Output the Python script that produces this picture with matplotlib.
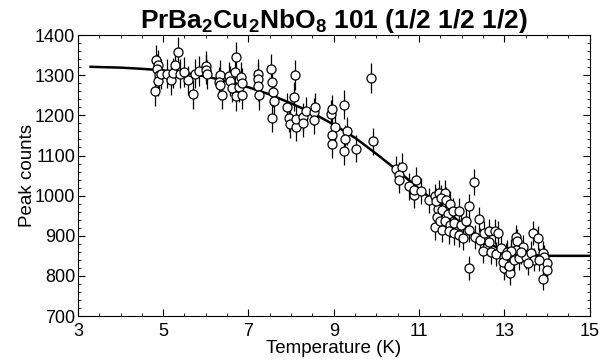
import matplotlib
matplotlib.use("Agg")
import matplotlib.pyplot as plt
from matplotlib.ticker import MultipleLocator, FixedLocator

plt.rcParams['font.family'] = ['Liberation Sans', 'DejaVu Sans']
plt.rcParams['mathtext.fontset'] = 'custom'
plt.rcParams['mathtext.rm'] = 'Liberation Sans'
plt.rcParams['mathtext.bf'] = 'Liberation Sans:bold'

# ---- data ----
temp = [4.84, 4.87, 4.86, 4.90, 4.89, 4.82, 4.96,
        5.08, 5.19, 5.23, 5.27, 5.35, 5.39, 5.50, 5.58, 5.69, 5.74, 5.84,
        6.01, 6.01, 6.02,
        6.34, 6.32, 6.33, 6.39, 6.54, 6.57, 6.62, 6.68, 6.70, 6.70, 6.78, 6.83, 6.85, 6.85,
        7.22, 7.22, 7.22, 7.25,
        7.52, 7.56, 7.57, 7.60, 7.54,
        8.08, 8.06, 7.90, 7.95, 7.98, 8.11, 8.12, 8.27, 8.28, 8.36, 8.53, 8.57, 8.54,
        8.93, 8.97, 9.02, 8.95, 8.97,
        9.23, 9.31, 9.26, 9.25, 9.51,
        9.88, 9.91,
        10.46, 10.60, 10.52, 10.53, 10.76, 10.93, 10.89, 10.87, 11.05, 11.23, 11.38, 11.44, 11.42, 11.38,
        11.40, 11.46, 11.60, 11.52, 11.62, 11.73, 11.54, 11.67, 11.80, 11.93, 11.48, 11.60,
        11.73, 11.83, 11.99, 12.10, 11.54, 11.70, 11.83, 11.93, 12.02, 12.17, 12.30, 12.42,
        12.53, 12.65, 12.77, 12.84, 12.63, 12.51, 12.69, 12.80, 12.92, 13.00, 12.98, 13.08, 13.05,
        12.28, 12.17, 12.40, 12.17,
        13.27, 13.30, 13.66, 13.78, 13.43, 13.27, 13.16, 12.96, 13.12, 13.10, 13.23, 13.35,
        13.51, 13.62, 13.70, 13.90, 13.94, 14.00, 14.01, 13.91, 13.82, 13.55, 13.16, 13.40, 13.04]

counts = [1337, 1326, 1315, 1300, 1285, 1260, 1303,
          1304, 1287, 1305, 1325, 1358, 1304, 1308, 1287, 1253, 1304, 1310,
          1323, 1314, 1302,
          1301, 1283, 1275, 1251, 1297, 1285, 1269, 1307, 1346, 1248, 1270, 1296, 1281, 1251,
          1304, 1290, 1274, 1250,
          1316, 1284, 1258, 1235, 1193,
          1301, 1246, 1221, 1193, 1178, 1170, 1190, 1196, 1180, 1211, 1209, 1221, 1188,
          1203, 1216, 1170, 1150, 1128,
          1226, 1162, 1141, 1110, 1117,
          1294, 1135,
          1067, 1072, 1052, 1039, 1023, 1039, 1001, 1015, 1011, 988, 998, 967, 948, 921,
          986, 1007, 1007, 994, 990, 979, 965, 954, 961, 962, 936, 936,
          927, 931, 927, 936, 915, 911, 906, 902, 894, 915, 898, 890,
          906, 911, 911, 906, 885, 862, 860, 854, 869, 848, 819, 827, 860,
          1034, 973, 941, 820,
          898, 886, 906, 894, 873, 864, 852, 835, 806, 825, 840, 844,
          848, 856, 840, 858, 848, 833, 814, 793, 840, 831, 862, 860, 852]

errors = [38, 38, 37, 37, 37, 36, 37,
          37, 37, 37, 38, 38, 37, 37, 37, 36, 37, 37,
          38, 37, 37,
          37, 37, 37, 36, 37, 37, 36, 37, 38, 36, 36, 37, 37, 36,
          37, 37, 37, 36,
          37, 37, 36, 36, 35,
          37, 36, 36, 35, 35, 35, 35, 35, 35, 35, 35, 36, 35,
          35, 36, 35, 35, 34,
          36, 35, 34, 34, 34,
          37, 34,
          33, 33, 33, 33, 33, 33, 32, 33, 33, 32, 32, 32, 31, 31,
          32, 32, 32, 32, 32, 32, 32, 31, 32, 32, 31, 31,
          31, 31, 31, 31, 31, 31, 30, 30, 30, 31, 30, 30,
          30, 31, 31, 30, 30, 30, 30, 30, 30, 30, 29, 29, 30,
          33, 32, 31, 29,
          30, 30, 30, 30, 30, 30, 30, 29, 29, 29, 29, 29,
          30, 30, 29, 30, 30, 29, 29, 28, 29, 29, 30, 30, 30]

fit_temp = [3.3, 4.0, 4.5, 5.0, 5.5, 6.0, 6.5, 7.0, 7.5, 8.0, 8.5, 9.0, 9.5,
            10.0, 10.5, 11.0, 11.5, 12.0, 12.5, 13.0, 13.5, 14.0, 15.0]
fit_counts = [1321, 1319, 1316, 1312, 1306, 1297, 1285, 1270, 1252, 1230, 1206, 1177, 1144,
              1104, 1062, 1017, 974, 930, 888, 862, 853, 850, 850]

xticks = [3, 5, 7, 9, 11, 13, 15]
yticks = [700, 800, 900, 1000, 1100, 1200, 1300, 1400]

title = r"PrBa$_{\mathbf{2}}$Cu$_{\mathbf{2}}$NbO$_{\mathbf{8}}$ 101 (1/2 1/2 1/2)"
xlabel = "Temperature (K)"
ylabel = "Peak counts"

fig = plt.figure(figsize=(6.13, 3.62), dpi=100)
ax = fig.add_axes([0.127, 0.127, 0.835, 0.776])

ax.plot(fit_temp, fit_counts, color='black', lw=1.8, zorder=2)
ax.errorbar(temp, counts, yerr=errors, fmt='o', ms=6.5, mfc='white', mec='black',
            mew=0.9, ecolor='black', elinewidth=0.9, capsize=0, zorder=3)

ax.set_xlim(3, 15)
ax.set_ylim(700, 1400)
ax.xaxis.set_major_locator(FixedLocator(xticks))
ax.xaxis.set_minor_locator(MultipleLocator(0.5))
ax.yaxis.set_major_locator(FixedLocator(yticks))
ax.yaxis.set_minor_locator(MultipleLocator(20))
ax.tick_params(which='both', direction='in', top=True, right=True, labelsize=13)
ax.tick_params(axis='x', which='major', pad=5)
ax.tick_params(axis='y', which='major', pad=2)
ax.tick_params(which='major', length=5, width=0.8)
ax.tick_params(which='minor', length=2.5, width=0.6)
for s in ax.spines.values():
    s.set_linewidth(0.8)

ax.set_xlabel(xlabel, fontsize=13.5, labelpad=0)
ax.set_ylabel(ylabel, fontsize=13.5, labelpad=-1)
ax.set_title(title, fontsize=19, fontweight='bold', pad=5)

fig.savefig("out.png", dpi=100)
